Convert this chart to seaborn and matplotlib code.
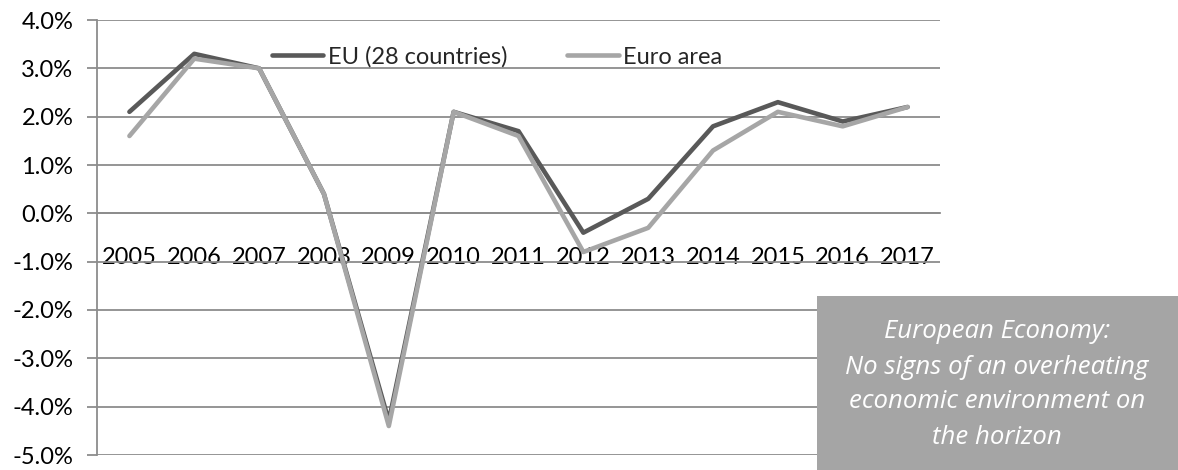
import matplotlib
matplotlib.use("Agg")
import matplotlib.pyplot as plt
from matplotlib.patches import Rectangle
from matplotlib.lines import Line2D
import seaborn as sns
import pandas as pd
import numpy as np

years = ["2005", "2006", "2007", "2008", "2009", "2010", "2011", "2012", "2013", "2014", "2015", "2016", "2017"]
eu28 = [2.1, 3.3, 3.0, 0.4, -4.3, 2.1, 1.7, -0.4, 0.3, 1.8, 2.3, 1.9, 2.2]
euro_area = [1.6, 3.2, 3.0, 0.4, -4.4, 2.1, 1.6, -0.8, -0.3, 1.3, 2.1, 1.8, 2.2]
series_names = ["EU (28 countries)", "Euro area"]
y_ticks = [4.0, 3.0, 2.0, 1.0, 0.0, -1.0, -2.0, -3.0, -4.0, -5.0]
note_lines = ["European Economy:", "No signs of an overheating",
              "economic environment on", "the horizon"]

sns.set_theme(style="white")
plt.rcParams['font.family'] = ['Lato', 'DejaVu Sans']

df = pd.DataFrame({
    "year": years * 2,
    "value": eu28 + euro_area,
    "series": [series_names[0]] * len(years) + [series_names[1]] * len(years),
})

colors = {series_names[0]: "#595959", series_names[1]: "#A6A6A6"}
W, H = 1178, 470
fig = plt.figure(figsize=(W / 100, H / 100), dpi=100)
ax = fig.add_axes([97 / W, 1 - 455 / H, (940 - 97) / W, (455 - 20) / H])

sns.lineplot(data=df, x="year", y="value", hue="series", palette=colors,
             linewidth=3.3, ax=ax, legend=False, sort=False, zorder=3)

ax.set_xlim(-0.5, len(years) - 0.5)
ax.set_ylim(-5.0, 4.0)
ax.set_xlabel("")
ax.set_ylabel("")

grid_c = "#8C8C8C"
ax.set_yticks(y_ticks)
ax.set_yticklabels([f"{v:.1f}%" for v in y_ticks], fontsize=17, color="black")
for v in y_ticks:
    ax.axhline(v, color=grid_c, lw=1.3, zorder=1)

for s in ["top", "right"]:
    ax.spines[s].set_visible(False)
ax.spines["left"].set_color(grid_c)
ax.spines["left"].set_linewidth(1.3)
ax.spines["bottom"].set_position(("data", 0))
ax.spines["bottom"].set_color(grid_c)
ax.spines["bottom"].set_linewidth(1.3)

ax.set_xticks(np.arange(len(years)))
ax.set_xticklabels(years, fontsize=17, color="black")
ax.set_xticks(np.arange(len(years) + 1) - 0.5, minor=True)
ax.tick_params(axis="x", which="major", length=0, pad=24)
ax.tick_params(axis="x", which="minor", length=6, width=1.3, color=grid_c, direction="out")
ax.tick_params(axis="y", which="major", length=7, width=1.3, color=grid_c, pad=10, left=True)

handles = [Line2D([], [], color=colors[n], lw=3.3) for n in series_names]
ax.legend(handles, series_names, loc="center left", bbox_to_anchor=(0.207, 0.915),
          ncol=2, frameon=False, fontsize=17, handlelength=2.2, handletextpad=0.2,
          columnspacing=2.5, borderpad=0, borderaxespad=0)

fig.patches.append(Rectangle((817 / W, 0), 1 - 817 / W, (470 - 296) / H,
                             transform=fig.transFigure, facecolor="#A5A5A5",
                             edgecolor="none", zorder=5))
line_y = [332, 367, 402, 437]
for txt, yy in zip(note_lines, line_y):
    fig.text(997 / W, 1 - yy / H, txt, ha="center", va="center", color="white",
             fontsize=18.5, style="italic", family=["Open Sans", "DejaVu Sans"], zorder=6)

fig.savefig("out.png", dpi=100)
